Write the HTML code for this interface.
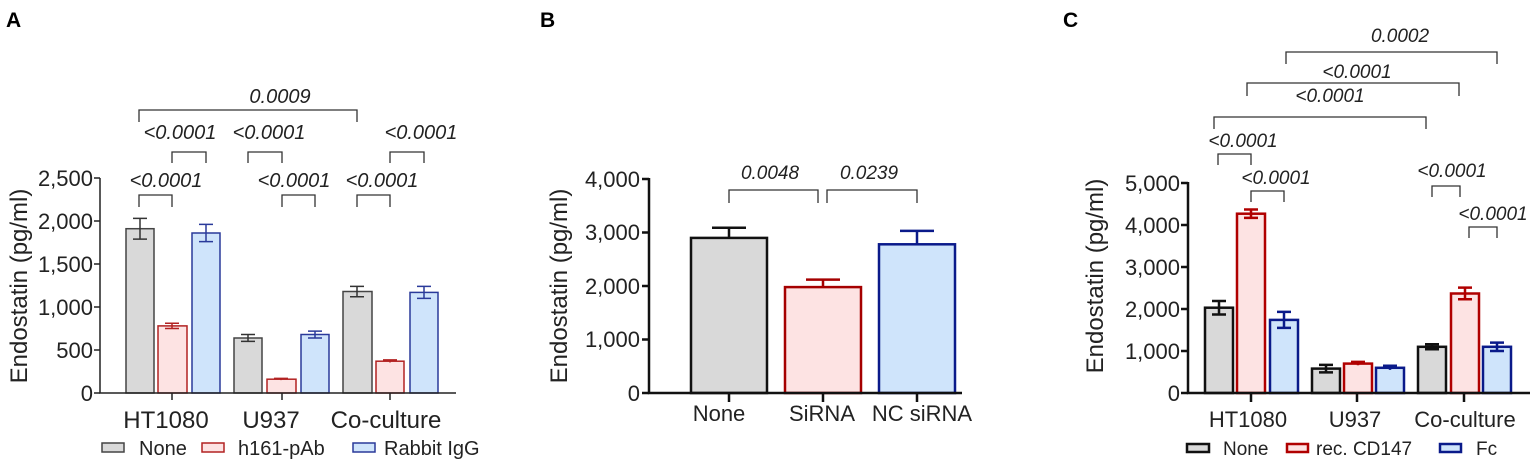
<!DOCTYPE html><html><head><meta charset="utf-8"><style>body{margin:0;background:#fff}svg{display:block}text{font-family:"Liberation Sans",Arial,sans-serif}</style></head><body>
<svg width="1535" height="463" viewBox="0 0 1535 463" xmlns="http://www.w3.org/2000/svg">
<g font-weight="bold" font-size="21"><text x="6" y="27">A</text><text x="540" y="27">B</text><text x="1063" y="27">C</text></g>

<!-- Panel A -->
<g>
<g fill="#d9d9d9" stroke="#444" stroke-width="1.5">
<rect x="126" y="228.7" width="28" height="164.3"/><rect x="234" y="338" width="28" height="55"/><rect x="343" y="291.5" width="29" height="101.5"/></g>
<g fill="#fde3e3" stroke="#b22222" stroke-width="1.5">
<rect x="158" y="325.9" width="29" height="67.1"/><rect x="267" y="379.2" width="29" height="13.8"/><rect x="376" y="361.2" width="28" height="31.8"/></g>
<g fill="#cfe4fb" stroke="#2a3a9a" stroke-width="1.5">
<rect x="192" y="233" width="28" height="160"/><rect x="301" y="334.5" width="28" height="58.5"/><rect x="410" y="292.4" width="28" height="100.6"/></g>
<g stroke="#333" stroke-width="1.5" fill="none">
<path d="M140 239.1V218.4M133 239.1h14M133 218.4h14"/><path d="M248 341.4V334.5M241 341.4h14M241 334.5h14"/><path d="M357 296.7V286.4M350 296.7h14M350 286.4h14"/></g>
<g stroke="#b22222" stroke-width="1.5" fill="none">
<path d="M172 328.5V323.3M165 328.5h14M165 323.3h14"/><path d="M281 380.1V378.4M274 378.4h14"/><path d="M390 362.5V359.9M383 359.9h14"/></g>
<g stroke="#2a3a9a" stroke-width="1.5" fill="none">
<path d="M206 241.6V224.4M199 241.6h14M199 224.4h14"/><path d="M315 338V331.1M308 338h14M308 331.1h14"/><path d="M424 298.4V286.4M417 298.4h14M417 286.4h14"/></g>
<g stroke="#222" stroke-width="1.5" fill="none">
<path d="M100 178V393H456"/><path d="M94 393h6M94 350h6M94 307h6M94 264h6M94 221h6M94 178h6"/>
<path d="M172 393v7M282 393v7M390 393v7"/></g>
<g font-size="22" text-anchor="end" fill="#222"><text x="93" y="401">0</text><text x="93" y="358">500</text><text x="93" y="315">1,000</text><text x="93" y="272">1,500</text><text x="93" y="229">2,000</text><text x="93" y="186">2,500</text></g>
<text transform="translate(27,286) rotate(-90)" font-size="24" text-anchor="middle" fill="#222">Endostatin (pg/ml)</text>
<g font-size="24" text-anchor="middle" fill="#222"><text x="166" y="428">HT1080</text><text x="271" y="428">U937</text><text x="386" y="428">Co-culture</text></g>
<g stroke="#333" stroke-width="1.3" fill="none">
<path d="M139 122V110H357V122"/>
<path d="M172 163V152H206V163M248 163V152H282V163M390 163V152H424V163"/>
<path d="M139 207V195H172V207M282 207V195H315V207M357 207V195H390V207"/></g>
<g font-size="20" font-style="italic" text-anchor="middle" fill="#222">
<text x="280" y="103">0.0009</text><text x="180" y="139">&lt;0.0001</text><text x="269" y="139">&lt;0.0001</text><text x="421" y="139">&lt;0.0001</text>
<text x="166" y="187">&lt;0.0001</text><text x="294" y="187">&lt;0.0001</text><text x="382" y="187">&lt;0.0001</text></g>
<g stroke-width="1.5"><rect x="102" y="443" width="22" height="9" fill="#d9d9d9" stroke="#444"/><rect x="202" y="443" width="22" height="9" fill="#fde3e3" stroke="#b22222"/><rect x="353" y="443" width="22" height="9" fill="#cfe4fb" stroke="#2a3a9a"/></g>
<g font-size="20" fill="#222"><text x="139" y="455">None</text><text x="238" y="455">h161-pAb</text><text x="384" y="455">Rabbit IgG</text></g>
</g>

<!-- Panel B -->
<g>
<rect x="691" y="237.9" width="76" height="155.1" fill="#d9d9d9" stroke="#111" stroke-width="2.5"/>
<rect x="785" y="287.1" width="76" height="105.9" fill="#fde3e3" stroke="#a50000" stroke-width="2.5"/>
<rect x="879" y="244.3" width="76" height="148.7" fill="#cfe4fb" stroke="#0a1a8a" stroke-width="2.5"/>
<path d="M729 237.9V227.7M712 227.7h34" stroke="#111" stroke-width="2.5"/>
<path d="M823 287.1V279.6M806 279.6h34" stroke="#a50000" stroke-width="2.5"/>
<path d="M917 244.3V230.9M900 230.9h34" stroke="#0a1a8a" stroke-width="2.5"/>
<g stroke="#111" stroke-width="2.5" fill="none"><path d="M649 178V393H962"/><path d="M642 393h7M642 339.5h7M642 286h7M642 232.5h7M642 179h7"/><path d="M729 393v9M823 393v9M917 393v9"/></g>
<g font-size="22" text-anchor="end" fill="#222"><text x="640" y="401">0</text><text x="640" y="347">1,000</text><text x="640" y="294">2,000</text><text x="640" y="240">3,000</text><text x="640" y="187">4,000</text></g>
<text transform="translate(567,286) rotate(-90)" font-size="24" text-anchor="middle" fill="#222">Endostatin (pg/ml)</text>
<g font-size="22" text-anchor="middle" fill="#222"><text x="719" y="421">None</text><text x="822" y="421">SiRNA</text><text x="922" y="421">NC siRNA</text></g>
<g stroke="#333" stroke-width="1.3" fill="none"><path d="M729 203V190H818V203M827 203V190H917V203"/></g>
<g font-size="19" font-style="italic" text-anchor="middle" fill="#222"><text x="770" y="179">0.0048</text><text x="869" y="179">0.0239</text></g>
</g>

<!-- Panel C -->
<g>
<g fill="#d9d9d9" stroke="#111" stroke-width="2.5"><rect x="1205" y="307.7" width="28" height="85.3"/><rect x="1312" y="368.6" width="28" height="24.4"/><rect x="1418" y="346.8" width="28" height="46.2"/></g>
<g fill="#fde3e3" stroke="#b00000" stroke-width="2.5"><rect x="1237" y="213.7" width="28" height="179.3"/><rect x="1344" y="363.6" width="28" height="29.4"/><rect x="1451" y="293.5" width="28" height="99.5"/></g>
<g fill="#cfe4fb" stroke="#0a1a8a" stroke-width="2.5"><rect x="1270" y="319.9" width="28" height="73.1"/><rect x="1376" y="367.8" width="28" height="25.2"/><rect x="1483" y="346.8" width="28" height="46.2"/></g>
<g stroke="#111" stroke-width="2.5" fill="none"><path d="M1219 314.5V301M1212 314.5h14M1212 301h14"/><path d="M1326 372.4V364.9M1319 372.4h14M1319 364.9h14"/><path d="M1432 349.3V344.3M1425 349.3h14M1425 344.3h14"/></g>
<g stroke="#b00000" stroke-width="2.5" fill="none"><path d="M1251 217.9V209.5M1244 217.9h14M1244 209.5h14"/><path d="M1358 365.3V361.9M1351 361.9h14"/><path d="M1465 299.3V287.6M1458 299.3h14M1458 287.6h14"/></g>
<g stroke="#0a1a8a" stroke-width="2.5" fill="none"><path d="M1284 327.9V311.9M1277 327.9h14M1277 311.9h14"/><path d="M1390 369.9V365.7M1383 365.7h14"/><path d="M1497 351V342.6M1490 351h14M1490 342.6h14"/></g>
<g stroke="#111" stroke-width="2.5" fill="none"><path d="M1188 182V393H1530"/><path d="M1181 393h7M1181 351h7M1181 309h7M1181 267h7M1181 225h7M1181 183h7"/><path d="M1251 393v9M1357 393v9M1464 393v9"/></g>
<g font-size="22" text-anchor="end" fill="#222"><text x="1180" y="401">0</text><text x="1180" y="359">1,000</text><text x="1180" y="317">2,000</text><text x="1180" y="275">3,000</text><text x="1180" y="233">4,000</text><text x="1180" y="191">5,000</text></g>
<text transform="translate(1103,276) rotate(-90)" font-size="24" text-anchor="middle" fill="#222">Endostatin (pg/ml)</text>
<g font-size="22" text-anchor="middle" fill="#222"><text x="1248" y="427">HT1080</text><text x="1355" y="427">U937</text><text x="1465" y="427">Co-culture</text></g>
<g stroke="#333" stroke-width="1.3" fill="none">
<path d="M1286 64V52H1497V64M1247 96V83H1459V96M1214 129V117H1426V129"/>
<path d="M1218 165V154H1251V165M1251 202V191H1284V202M1432 197V186H1460V197M1469 238V227H1497V238"/></g>
<g font-size="19" font-style="italic" text-anchor="middle" fill="#222">
<text x="1400" y="42">0.0002</text><text x="1357" y="78">&lt;0.0001</text><text x="1330" y="102">&lt;0.0001</text>
<text x="1243" y="147">&lt;0.0001</text><text x="1276" y="184">&lt;0.0001</text><text x="1452" y="177">&lt;0.0001</text><text x="1493" y="220">&lt;0.0001</text></g>
<g stroke-width="2.5"><rect x="1187" y="444" width="22" height="8" fill="#d9d9d9" stroke="#111"/><rect x="1287" y="444" width="21" height="8" fill="#fde3e3" stroke="#b00000"/><rect x="1440" y="444" width="21" height="8" fill="#cfe4fb" stroke="#0a1a8a"/></g>
<g font-size="19" fill="#222"><text x="1223" y="455">None</text><text x="1316" y="455">rec. CD147</text><text x="1476" y="455">Fc</text></g>
</g>
</svg></body></html>
